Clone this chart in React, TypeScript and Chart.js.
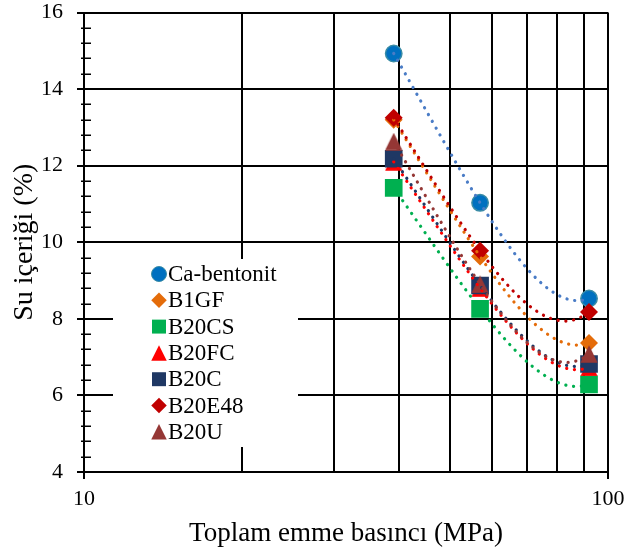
import React, { useEffect, useRef } from "react";
import { Chart, registerables } from "chart.js";

Chart.register(...registerables);

// ---------- data ----------
const seriesNames = ["Ca-bentonit", "B1GF", "B20CS", "B20FC", "B20C", "B20E48", "B20U"];
const suctionMPa = [39, 57, 92];
const caBentonit = [14.93, 11.03, 8.53];
const b1gf = [13.2, 9.63, 7.37];
const b20cs = [11.42, 8.26, 6.29];
const b20fc = [12.1, 8.8, 6.73];
const b20c = [12.18, 8.87, 6.82];
const b20e48 = [13.25, 9.78, 8.18];
const b20u = [12.63, 8.9, 7.08];
const seriesValues = [caBentonit, b1gf, b20cs, b20fc, b20c, b20e48, b20u];
const xGridValues = [10, 20, 30, 40, 50, 60, 70, 80, 90, 100];
const xTickLabels = ["10", "100"];
const yMin = 4;
const yMax = 16;
const yStep = 2;
const xTitle = "Toplam emme basıncı (MPa)";
const yTitle = "Su içeriği (%)";

// ---------- styles ----------
const markerFill = ["#0070C0", "#E46C0A", "#00B050", "#FF0000", "#1F3864", "#C00000", "#953735"];
const markerBorder = ["#3A8CA6", "#E46C0A", "#00B050", "#FF0000", "#1F3864", "#C00000", "#953735"];
const trendColors = ["#4A7CC6", "#E46C0A", "#00B050", "#FF0000", "#1F3864", "#C00000", "#953735"];
const markerShapes = ["circle", "diamond", "square", "triangle", "square", "diamond", "triangle"];
const FONT = "'Liberation Serif', serif";

function makeTriangle(color: string, size: number): HTMLCanvasElement {
  const c = document.createElement("canvas");
  c.width = size;
  c.height = size;
  const g = c.getContext("2d")!;
  g.fillStyle = color;
  g.beginPath();
  g.moveTo(size / 2, 0.3);
  g.lineTo(size - 0.3, size - 0.3);
  g.lineTo(0.3, size - 0.3);
  g.closePath();
  g.fill();
  return c;
}

function drawShape(ctx: CanvasRenderingContext2D, shape: string, x: number, y: number, s: number, fill: string, stroke: string) {
  ctx.save();
  ctx.fillStyle = fill;
  ctx.strokeStyle = stroke;
  ctx.beginPath();
  const h = s / 2;
  if (shape === "circle") {
    ctx.arc(x, y, h, 0, Math.PI * 2);
  } else if (shape === "diamond") {
    ctx.moveTo(x, y - h);
    ctx.lineTo(x + h, y);
    ctx.lineTo(x, y + h);
    ctx.lineTo(x - h, y);
    ctx.closePath();
  } else if (shape === "square") {
    const q = h * 0.9;
    ctx.rect(x - q, y - q, 2 * q, 2 * q);
  } else {
    ctx.moveTo(x, y - h);
    ctx.lineTo(x + h, y + h);
    ctx.lineTo(x - h, y + h);
    ctx.closePath();
  }
  ctx.fill();
  if (shape === "circle") {
    ctx.lineWidth = 1;
    ctx.stroke();
  }
  ctx.restore();
}

function fitQuadratic(xs: number[], ys: number[]): number[] {
  const S = [
    [0, 0, 0],
    [0, 0, 0],
    [0, 0, 0],
  ];
  const T = [0, 0, 0];
  for (let i = 0; i < xs.length; i++) {
    const p = [1, xs[i], xs[i] * xs[i]];
    for (let j = 0; j < 3; j++) {
      T[j] += p[j] * ys[i];
      for (let k = 0; k < 3; k++) S[j][k] += p[j] * p[k];
    }
  }
  const A = S.map((r, i) => [...r, T[i]]);
  for (let c = 0; c < 3; c++) {
    let piv = c;
    for (let r = c + 1; r < 3; r++) if (Math.abs(A[r][c]) > Math.abs(A[piv][c])) piv = r;
    [A[c], A[piv]] = [A[piv], A[c]];
    for (let r = 0; r < 3; r++) {
      if (r === c) continue;
      const f = A[r][c] / A[c][c];
      for (let k = c; k < 4; k++) A[r][k] -= f * A[c][k];
    }
  }
  return [A[0][3] / A[0][0], A[1][3] / A[1][1], A[2][3] / A[2][2]];
}

const minorTickPlugin = {
  id: "minorTicks",
  beforeDatasetsDraw(chart: any) {
    const ctx = chart.ctx;
    const ys = chart.scales.y;
    const left = chart.chartArea.left;
    ctx.save();
    ctx.strokeStyle = "#000";
    ctx.lineWidth = 1.5;
    const n = Math.round((yMax - yMin) / 0.4);
    for (let k = 0; k <= n; k++) {
      if (k % 5 === 0) continue;
      const v = yMin + k * 0.4;
      const py = Math.round(ys.getPixelForValue(v)) + 0.25;
      ctx.beginPath();
      ctx.moveTo(left - 3, py);
      ctx.lineTo(left + 7, py);
      ctx.stroke();
    }
    ctx.restore();
  },
};

const legendPlugin = {
  id: "insideLegend",
  beforeDatasetsDraw(chart: any) {
    const ctx = chart.ctx;
    ctx.save();
    ctx.fillStyle = "#fff";
    ctx.fillRect(113, 259, 185, 188);
    ctx.font = `23px ${FONT}`;
    ctx.textBaseline = "middle";
    ctx.textAlign = "left";
    for (let i = 0; i < seriesNames.length; i++) {
      const y = 274 + i * 26.3;
      drawShape(ctx, markerShapes[i], 159, y, markerShapes[i] === "circle" ? 15 : 15.5, markerFill[i], markerBorder[i]);
      ctx.fillStyle = "#000";
      ctx.fillText(seriesNames[i], 168, y + 1);
    }
    ctx.restore();
  },
};

const trendPlugin = {
  id: "polyTrend",
  afterDatasetsDraw(chart: any) {
    const ctx = chart.ctx;
    const xs = chart.scales.x;
    const ys = chart.scales.y;
    ctx.save();
    for (let i = 0; i < seriesValues.length; i++) {
      const [c0, c1, c2] = fitQuadratic(suctionMPa, seriesValues[i]);
      const x0 = Math.min(...suctionMPa);
      const x1 = Math.max(...suctionMPa);
      ctx.beginPath();
      const steps = 240;
      for (let k = 0; k <= steps; k++) {
        const xv = x0 + ((x1 - x0) * k) / steps;
        const yv = c0 + c1 * xv + c2 * xv * xv;
        const px = xs.getPixelForValue(xv);
        const py = ys.getPixelForValue(yv);
        if (k === 0) ctx.moveTo(px, py);
        else ctx.lineTo(px, py);
      }
      ctx.strokeStyle = trendColors[i];
      ctx.lineWidth = 3.2;
      ctx.lineCap = "round";
      ctx.setLineDash([0.1, 7.7]);
      ctx.stroke();
    }
    ctx.restore();
  },
};

export default function App() {
  const ref = useRef<HTMLCanvasElement>(null);
  useEffect(() => {
    document.body.style.margin = "0";
    const pointStyles = markerShapes.map((s, i) => {
      if (s === "circle") return "circle";
      if (s === "diamond") return "rectRot";
      if (s === "square") return "rect";
      return makeTriangle(markerFill[i], 18);
    });
    const radii = markerShapes.map((s) => (s === "circle" ? 8.2 : s === "diamond" ? 9 : s === "square" ? 12.5 : 9));
    const datasets = seriesNames.map((name, i) => ({
      label: name,
      data: suctionMPa.map((x, j) => ({ x, y: seriesValues[i][j] })),
      showLine: false,
      pointStyle: pointStyles[i] as any,
      pointRadius: radii[i],
      pointHoverRadius: radii[i],
      backgroundColor: markerFill[i],
      borderColor: markerBorder[i],
      borderWidth: markerShapes[i] === "circle" ? 1.5 : 0,
      order: seriesNames.length - i,
    }));

    const chart = new Chart(ref.current!, {
      type: "scatter",
      data: { datasets },
      plugins: [minorTickPlugin, legendPlugin, trendPlugin],
      options: {
        animation: false,
        responsive: true,
        maintainAspectRatio: false,
        events: [],
        layout: { padding: { top: 11, right: 17, left: 0, bottom: 0 } },
        plugins: {
          legend: { display: false },
          tooltip: { enabled: false },
        },
        scales: {
          x: {
            type: "logarithmic",
            min: 10,
            max: 100,
            afterBuildTicks: (s: any) => {
              s.ticks = xGridValues.map((v) => ({ value: v }));
            },
            afterFit: (s: any) => {
              s.height = 81;
              s.paddingLeft = 0;
              s.paddingRight = 0;
            },
            border: { display: true, color: "#000", width: 2 },
            grid: {
              color: "#000",
              lineWidth: 2,
              tickLength: 7,
              tickWidth: 2,
              tickColor: (c: any) =>
                c.tick && xTickLabels.includes(String(c.tick.value)) ? "#000" : "rgba(0,0,0,0)",
            },
            ticks: {
              autoSkip: false,
              maxRotation: 0,
              padding: 7,
              color: "#000",
              font: { family: FONT, size: 22, lineHeight: 1.2 },
              callback: (v: any) => (xTickLabels.includes(String(v)) ? String(v) : ""),
            },
            title: {
              display: true,
              text: xTitle,
              color: "#000",
              font: { family: FONT, size: 27, lineHeight: 1.2 },
              padding: { top: 0, bottom: 3 },
            },
          },
          y: {
            min: yMin,
            max: yMax,
            afterFit: (s: any) => {
              s.width = 84;
              s.paddingTop = 0;
              s.paddingBottom = 0;
            },
            border: { display: true, color: "#000", width: 2 },
            grid: { color: "#000", lineWidth: 2, tickLength: 7, tickWidth: 2, tickColor: "#000" },
            ticks: {
              stepSize: yStep,
              padding: 14,
              color: "#000",
              font: { family: FONT, size: 22, lineHeight: 1.2 },
            },
            title: {
              display: true,
              text: yTitle,
              color: "#000",
              font: { family: FONT, size: 28, lineHeight: 1.2 },
              padding: { top: 8, bottom: 0 },
            },
          },
        },
      },
    });
    return () => chart.destroy();
  }, []);

  return (
    <div style={{ width: 625, height: 553, position: "relative" }}>
      <canvas ref={ref} />
    </div>
  );
}
